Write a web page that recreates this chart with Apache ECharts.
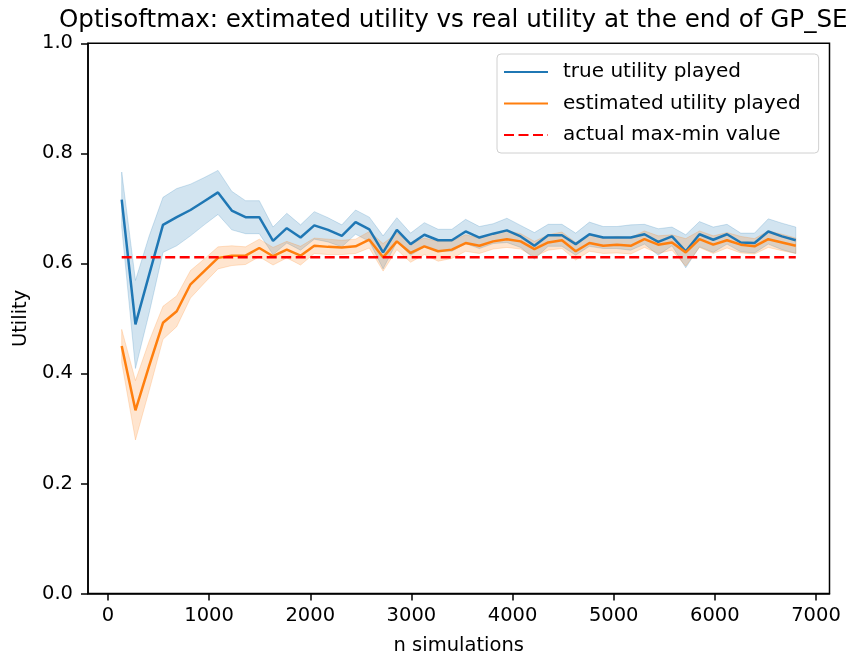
<!DOCTYPE html>
<html>
<head>
<meta charset="utf-8">
<script src="https://cdn.jsdelivr.net/npm/echarts@6/dist/echarts.min.js"></script>
<style>
html,body{margin:0;padding:0;background:#ffffff;}
#chart{width:861px;height:656px;}
</style>
</head>
<body>
<div id="chart"></div>
<script>
// ---------- data ----------
const titleText = 'Optisoftmax: extimated utility vs real utility at the end of GP_SE';
const nSimulations = [136, 272, 408, 544, 680, 816, 952, 1088, 1224, 1360,
  1496, 1632, 1768, 1904, 2040, 2176, 2312, 2448, 2584, 2720,
  2856, 2992, 3128, 3264, 3400, 3536, 3672, 3808, 3944, 4080,
  4216, 4352, 4488, 4624, 4760, 4896, 5032, 5168, 5304, 5440,
  5576, 5712, 5848, 5984, 6120, 6256, 6392, 6528, 6664, 6800];
const trueUtility = [0.716, 0.489, 0.580, 0.670, 0.684, 0.697, 0.713, 0.729, 0.696, 0.684,
  0.684, 0.641, 0.664, 0.647, 0.669, 0.661, 0.650, 0.675, 0.662, 0.620,
  0.661, 0.635, 0.652, 0.642, 0.642, 0.658, 0.647, 0.654, 0.660, 0.649,
  0.632, 0.651, 0.651, 0.635, 0.653, 0.647, 0.647, 0.647, 0.653, 0.639,
  0.649, 0.622, 0.653, 0.643, 0.653, 0.638, 0.637, 0.658, 0.649, 0.642];
const trueSpread = [0.050, 0.080, 0.070, 0.050, 0.052, 0.047, 0.043, 0.040, 0.035, 0.030,
  0.030, 0.025, 0.027, 0.023, 0.025, 0.022, 0.020, 0.022, 0.022, 0.030,
  0.022, 0.020, 0.022, 0.020, 0.020, 0.022, 0.020, 0.018, 0.022, 0.020,
  0.024, 0.020, 0.020, 0.020, 0.022, 0.020, 0.020, 0.023, 0.018, 0.024,
  0.017, 0.030, 0.023, 0.023, 0.018, 0.017, 0.018, 0.023, 0.024, 0.024];
const estUtility = [0.450, 0.333, 0.414, 0.492, 0.513, 0.562, 0.586, 0.610, 0.614, 0.614,
  0.628, 0.613, 0.625, 0.614, 0.632, 0.630, 0.629, 0.631, 0.643, 0.611,
  0.640, 0.619, 0.631, 0.622, 0.625, 0.637, 0.632, 0.640, 0.644, 0.640,
  0.626, 0.638, 0.642, 0.622, 0.637, 0.632, 0.634, 0.632, 0.644, 0.634,
  0.638, 0.620, 0.644, 0.634, 0.642, 0.634, 0.631, 0.644, 0.638, 0.632];
const estSpread = [0.030, 0.054, 0.045, 0.030, 0.028, 0.025, 0.022, 0.020, 0.018, 0.016,
  0.016, 0.016, 0.015, 0.017, 0.014, 0.014, 0.013, 0.013, 0.015, 0.025,
  0.015, 0.017, 0.015, 0.018, 0.016, 0.015, 0.014, 0.014, 0.015, 0.014,
  0.014, 0.014, 0.015, 0.016, 0.015, 0.014, 0.015, 0.015, 0.015, 0.016,
  0.014, 0.025, 0.015, 0.016, 0.014, 0.015, 0.014, 0.015, 0.015, 0.014];
const maxMinValue = 0.611;
const xTicks = [0, 1000, 2000, 3000, 4000, 5000, 6000, 7000];
const yTicks = [0.0, 0.2, 0.4, 0.6, 0.8, 1.0];
const seriesNames = ['true utility played', 'estimated utility played', 'actual max-min value'];

// ---------- build ----------
const FONT = 'DejaVu Sans';
const C_BLUE = '#1f77b4', C_ORANGE = '#ff7f0e', C_RED = '#ff0000';
const xFirst = nSimulations[0], xLast = nSimulations[nSimulations.length - 1];
const pad = (xLast - xFirst) * 0.05;
const xMin = xFirst - pad, xMax = xLast + pad;

function linePoints(vals) { return nSimulations.map((x, i) => [x, vals[i]]); }
function bandData(vals, spread) {
  return nSimulations.map((x, i) => [x, vals[i] - spread[i], vals[i] + spread[i]]);
}
function bandSeries(vals, spread, color, z) {
  const data = bandData(vals, spread);
  return {
    type: 'custom',
    silent: true,
    data: data,
    encode: { x: 0, y: [1, 2] },
    z: z,
    renderItem: function (params, api) {
      if (params.dataIndex !== 0) return null;
      const upper = data.map(d => api.coord([d[0], d[2]]));
      const lower = data.map(d => api.coord([d[0], d[1]])).reverse();
      return {
        type: 'polygon',
        shape: { points: upper.concat(lower) },
        style: { fill: color, stroke: color, lineWidth: 1 }
      };
    }
  };
}

const chart = echarts.init(document.getElementById('chart'), null, { renderer: 'canvas' });
const option = {
  animation: false,
  backgroundColor: '#ffffff',
  title: {
    text: titleText,
    left: 59,
    top: 8,
    padding: 0,
    textStyle: { fontFamily: FONT, fontSize: 24.6, fontWeight: 'normal', color: '#000' }
  },
  grid: {
    left: 88, right: 31.5, top: 43.3, bottom: 62.5,
    show: true, borderColor: '#000', borderWidth: 1.5, backgroundColor: 'transparent',
    containLabel: false,
    outerBoundsMode: 'none'
  },
  legend: {
    orient: 'vertical',
    left: 497, top: 54,
    data: seriesNames,
    itemWidth: 44, itemHeight: 14, itemGap: 11.5,
    padding: [8, 18, 8, 6],
    backgroundColor: 'rgba(255,255,255,0.8)',
    borderColor: '#d0d0d0', borderWidth: 1, borderRadius: 4,
    itemStyle: { opacity: 0 },
    textStyle: { fontFamily: FONT, fontSize: 20, color: '#000', padding: [0, 0, 0, 10] },
    selectedMode: false
  },
  xAxis: {
    type: 'value', min: xMin, max: xMax,
    name: 'n simulations', nameLocation: 'middle', nameGap: 42,
    nameTextStyle: { fontFamily: FONT, fontSize: 19.5, color: '#000' },
    axisLine: { show: true, onZero: false, lineStyle: { color: '#000', width: 1.5 } },
    axisTick: { show: true, length: 7, customValues: xTicks, lineStyle: { color: '#000', width: 1.5 } },
    axisLabel: { customValues: xTicks, fontFamily: FONT, fontSize: 19.5, color: '#000', margin: 12,
      formatter: v => String(v) },
    splitLine: { show: false }
  },
  yAxis: {
    type: 'value', min: yTicks[0], max: yTicks[yTicks.length - 1], interval: 0.2,
    name: 'Utility', nameLocation: 'middle', nameGap: 56, nameRotate: 90,
    nameTextStyle: { fontFamily: FONT, fontSize: 19.5, color: '#000' },
    axisLine: { show: true, onZero: false, lineStyle: { color: '#000', width: 1.5 } },
    axisTick: { show: true, length: 7, lineStyle: { color: '#000', width: 1.5 } },
    axisLabel: { fontFamily: FONT, fontSize: 19.5, color: '#000', margin: 15,
      formatter: v => v.toFixed(1) },
    splitLine: { show: false }
  },
  series: [
    bandSeries(trueUtility, trueSpread, 'rgba(31,119,180,0.2)', 1),
    bandSeries(estUtility, estSpread, 'rgba(255,127,14,0.2)', 2),
    {
      name: seriesNames[0], type: 'line', data: linePoints(trueUtility),
      symbol: 'none', z: 3, color: C_BLUE,
      lineStyle: { color: C_BLUE, width: 2.5 }
    },
    {
      name: seriesNames[1], type: 'line', data: linePoints(estUtility),
      symbol: 'none', z: 4, color: C_ORANGE,
      lineStyle: { color: C_ORANGE, width: 2.5 }
    },
    {
      name: seriesNames[2], type: 'line',
      data: [[xFirst, maxMinValue], [xLast, maxMinValue]],
      symbol: 'none', z: 6, color: C_RED,
      lineStyle: { color: C_RED, width: 2.5, type: [10, 4.5] }
    }
  ]
};
chart.setOption(option);
</script>
</body>
</html>
